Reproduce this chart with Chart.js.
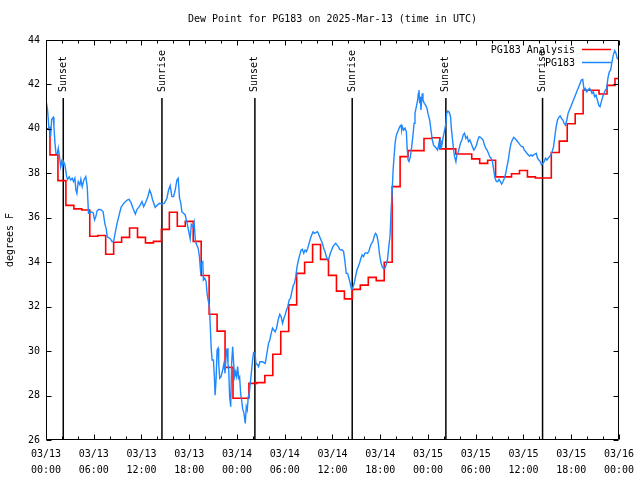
<!DOCTYPE html>
<html><head><meta charset="utf-8">
<script src="https://cdn.jsdelivr.net/npm/chart.js@4/dist/chart.umd.min.js"></script>
<style>html,body{margin:0;padding:0;background:#fff;}canvas{display:block;}</style>
</head><body>
<canvas id="c" width="640" height="480"></canvas>
<script>
const titleText = 'Dew Point for PG183 on 2025-Mar-13 (time in UTC)';
const yAxisLabel = 'degrees F';
const seriesNames = ['PG183 Analysis', 'PG183'];
const seriesColors = ['#ff0000', '#1e88ff'];
const xTickDates = ['03/13','03/13','03/13','03/13','03/14','03/14','03/14','03/14','03/15','03/15','03/15','03/15','03/16'];
const xTickTimes = ['00:00','06:00','12:00','18:00','00:00','06:00','12:00','18:00','00:00','06:00','12:00','18:00','00:00'];
const sunEventHours = [2.17, 14.57, 26.25, 38.48, 50.25, 62.4];
const sunEventLabels = ['Sunset','Sunrise','Sunset','Sunrise','Sunset','Sunrise'];

// hourly analysis (hours since 03/13 00:00 UTC)
const analysisHours = [0,1,2,3,4,5,6,7,8,9,10,11,12,13,14,15,16,17,18,19,20,21,22,23,24,25,26,27,28,29,30,31,32,33,34,35,36,37,38,39,40,41,42,43,44,45,46,47,48,49,50,51,52,53,54,55,56,57,58,59,60,61,62,63,64,65,66,67,68,69,70,71,72];
const analysisValues = [40.0,38.83,37.67,36.56,36.4,36.35,35.17,35.2,34.36,34.9,35.12,35.54,35.12,34.87,34.94,35.48,36.25,35.62,35.84,34.94,33.4,31.66,30.9,29.27,27.88,27.88,28.55,28.58,28.9,29.86,30.88,32.08,33.5,34.0,34.8,34.13,33.41,32.7,32.35,32.78,32.97,33.32,33.17,34.0,37.4,38.75,39.02,39.02,39.57,39.6,39.1,39.1,38.87,38.87,38.65,38.45,38.59,37.84,37.84,37.98,38.13,37.84,37.79,37.79,38.94,39.45,40.23,40.68,41.74,41.74,41.57,41.96,42.27];

// observations
const obsHours = [0.0,0.08,0.2,0.38,0.5,0.58,0.71,0.92,1.0,1.13,1.25,1.42,1.54,1.67,1.84,1.96,2.09,2.21,2.38,2.59,2.71,2.92,3.09,3.3,3.46,3.63,3.76,3.88,4.05,4.26,4.38,4.55,4.76,5.0,5.18,5.34,5.5,5.68,5.93,6.1,6.26,6.43,6.68,6.97,7.18,7.39,7.6,7.68,8.1,8.31,8.51,8.72,8.93,9.14,9.43,9.77,10.19,10.44,10.69,10.94,11.23,11.44,11.65,11.85,12.06,12.27,12.48,12.77,13.02,13.19,13.4,13.73,14.02,14.27,14.57,14.86,15.2,15.4,15.61,15.82,16.03,16.24,16.45,16.61,16.78,16.95,17.07,17.28,17.49,17.7,17.9,18.12,18.26,18.45,18.61,18.78,18.95,19.12,19.28,19.41,19.53,19.7,19.78,19.95,20.12,20.24,20.37,20.54,20.62,20.75,20.87,21.04,21.16,21.25,21.37,21.5,21.62,21.7,21.83,22.0,22.2,22.37,22.5,22.62,22.75,22.87,22.96,23.08,23.21,23.33,23.46,23.58,23.71,23.83,23.96,24.08,24.21,24.33,24.46,24.58,24.71,24.88,25.04,25.17,25.29,25.42,25.55,25.67,25.8,25.96,26.09,26.26,26.38,26.59,26.71,26.88,27.21,27.55,27.76,27.96,28.13,28.3,28.47,28.63,28.8,28.97,29.09,29.22,29.38,29.55,29.72,29.89,30.05,30.22,30.39,30.55,30.72,30.89,31.05,31.22,31.39,31.55,31.72,31.89,32.06,32.22,32.39,32.56,32.73,32.89,33.06,33.23,33.39,33.56,33.72,33.89,34.1,34.22,34.39,34.56,34.73,34.9,35.06,35.23,35.4,35.56,35.73,35.9,36.06,36.23,36.4,36.56,36.73,36.9,37.06,37.23,37.4,37.57,37.73,37.9,38.07,38.23,38.4,38.57,38.73,38.9,39.07,39.23,39.4,39.57,39.73,39.9,40.07,40.23,40.4,40.57,40.74,40.9,41.07,41.23,41.4,41.57,41.74,41.9,42.07,42.24,42.41,42.57,42.74,42.91,43.08,43.24,43.37,43.49,43.62,43.74,43.87,43.99,44.12,44.29,44.45,44.62,44.7,44.79,44.95,45.12,45.29,45.37,45.5,45.62,45.79,45.96,46.12,46.25,46.37,46.54,46.71,46.79,46.87,46.96,47.04,47.12,47.21,47.29,47.37,47.54,47.71,47.87,48.04,48.21,48.38,48.55,48.71,48.88,49.05,49.21,49.38,49.55,49.63,49.75,49.88,50.05,50.26,50.34,50.5,50.67,50.84,50.92,51.09,51.22,51.34,51.51,51.63,51.76,51.93,52.09,52.26,52.43,52.59,52.76,52.93,53.09,53.26,53.43,53.59,53.76,53.93,54.1,54.26,54.43,54.6,54.76,54.93,55.1,55.26,55.43,55.6,55.76,55.93,56.1,56.26,56.43,56.6,56.76,56.93,57.1,57.26,57.43,57.6,57.77,57.93,58.1,58.27,58.44,58.6,58.77,58.94,59.1,59.27,59.44,59.6,59.77,59.94,60.1,60.27,60.44,60.61,60.77,60.94,61.11,61.27,61.44,61.61,61.77,61.94,62.11,62.27,62.44,62.61,62.77,62.94,63.11,63.27,63.44,63.61,63.78,63.94,64.11,64.28,64.44,64.61,64.78,64.95,65.11,65.28,65.45,65.61,65.78,65.95,66.12,66.28,66.45,66.62,66.78,66.95,67.12,67.28,67.45,67.62,67.78,67.95,68.12,68.29,68.45,68.62,68.79,68.95,69.12,69.29,69.46,69.62,69.79,69.96,70.12,70.29,70.46,70.62,70.79,70.96,71.12,71.29,71.46,71.63,71.79,71.97];
const obsValues = [41.3,41.3,40.85,39.95,40.1,39.65,40.43,40.52,40.1,39.35,38.9,38.87,39.13,38.83,38.3,38.53,38.33,38.53,38.38,37.85,37.73,37.85,37.7,37.78,37.63,37.78,37.25,37.1,37.63,37.48,37.73,37.4,37.7,37.85,37.4,36.2,36.2,36.27,36.23,35.9,36.05,36.32,36.38,36.35,36.27,35.75,35.45,35.15,35.05,34.92,34.96,35.37,35.75,36.05,36.47,36.65,36.8,36.83,36.68,36.42,36.17,36.38,36.47,36.58,36.73,36.5,36.65,36.91,37.25,37.1,36.8,36.47,36.58,36.65,36.62,36.65,36.88,37.25,37.45,36.95,36.95,37.25,37.7,37.78,36.88,36.65,36.27,36.2,36.13,35.82,35.45,35.05,35.7,35.6,35.82,34.93,34.78,34.63,34.25,33.65,33.95,34.02,33.2,33.28,33.13,32.6,32.3,32.0,31.32,30.2,29.6,29.6,28.85,28.02,28.7,30.05,30.13,29.45,28.78,28.85,29.15,29.45,29.0,29.75,30.13,29.45,29.15,27.95,27.5,29.45,30.2,29.45,28.85,29.07,28.85,29.3,28.78,28.85,28.1,27.8,27.42,27.2,26.75,27.5,27.35,27.95,28.1,28.55,29.0,29.6,29.93,29.9,29.45,29.38,29.3,29.52,29.52,29.45,29.9,30.35,30.5,30.8,31.03,30.95,30.87,31.03,31.25,31.47,31.66,31.55,31.25,31.47,31.63,31.85,32.0,32.3,32.37,32.67,32.93,33.05,33.35,33.8,34.1,34.33,34.55,34.58,34.4,34.55,34.48,34.63,34.85,35.07,35.22,35.37,35.3,35.33,35.37,35.3,35.15,35.0,34.85,34.63,34.48,34.25,34.1,34.18,34.4,34.55,34.7,34.78,34.85,34.78,34.7,34.58,34.55,34.55,34.48,34.02,33.5,33.5,33.28,33.05,32.75,32.87,33.05,33.35,33.65,33.8,33.95,34.18,34.33,34.25,34.4,34.43,34.4,34.48,34.7,34.85,34.92,35.15,35.3,35.22,34.92,34.4,34.02,33.8,33.72,33.72,33.87,34.1,34.7,35.2,36.35,37.1,38.15,38.75,39.35,39.65,39.8,39.95,40.1,40.17,39.95,40.1,39.95,40.03,39.87,39.2,38.6,38.53,38.75,39.2,39.73,40.25,40.7,41.0,41.3,41.6,41.75,41.15,41.45,40.85,41.3,41.6,41.3,41.15,41.07,40.93,40.63,40.4,39.95,39.5,39.27,39.2,39.13,39.05,39.35,39.13,39.43,39.27,39.57,39.87,40.25,40.7,40.8,40.75,40.55,40.1,39.5,39.05,38.75,38.52,38.83,38.9,39.13,39.35,39.5,39.73,39.8,39.57,39.65,39.42,39.5,39.35,39.2,39.05,39.13,39.27,39.5,39.65,39.62,39.57,39.5,39.27,39.13,39.05,38.9,38.75,38.68,38.53,38.15,37.78,37.63,37.63,37.73,37.63,37.52,37.63,37.78,38.0,38.3,38.6,39.05,39.35,39.5,39.62,39.57,39.5,39.42,39.35,39.27,39.2,39.2,39.05,38.98,38.9,38.83,38.78,38.83,38.78,38.83,38.87,38.9,38.68,38.6,38.53,38.38,38.45,38.53,38.68,38.6,38.68,38.75,38.83,38.98,39.2,39.65,40.1,40.4,40.52,40.58,40.47,40.4,40.25,40.17,40.4,40.7,40.85,41.0,41.15,41.3,41.45,41.6,41.75,41.9,42.05,42.2,42.23,41.75,41.82,41.67,41.75,41.82,41.75,41.6,41.67,41.45,41.52,41.3,41.07,41.0,41.23,41.45,41.6,41.75,41.82,42.3,42.57,42.65,43.02,43.32,43.52,43.4,43.17,43.13];

const FONT = 'DejaVu Sans Mono';

const framePlugin = {
  id: 'frame',
  beforeDatasetsDraw(chart) {
    const c = chart.ctx, a = chart.chartArea, xs = chart.scales.x;
    c.save();
    c.strokeStyle = '#000';
    c.lineWidth = 1.5;
    c.fillStyle = '#000';
    c.font = '10px ' + FONT;
    sunEventHours.forEach((h, i) => {
      const px = xs.getPixelForValue(h);
      c.beginPath(); c.moveTo(px, 98); c.lineTo(px, a.bottom); c.stroke();
      c.save();
      c.translate(px, 92);
      c.rotate(-Math.PI / 2);
      c.textAlign = 'left'; c.textBaseline = 'middle';
      c.fillText(sunEventLabels[i], 0, 0);
      c.restore();
    });
    c.restore();
  },
  afterDatasetsDraw(chart) {
    const c = chart.ctx, a = chart.chartArea, xs = chart.scales.x, ys = chart.scales.y;
    c.save();
    // title, centred over the plot area
    c.fillStyle = '#000';
    c.font = '10px ' + FONT;
    c.textAlign = 'center'; c.textBaseline = 'middle';
    c.fillText(titleText, (a.left + a.right) / 2, 19);
    c.strokeStyle = '#000';
    c.lineWidth = 1;
    const L = Math.round(a.left) + 0.5, R = Math.round(a.right) - 0.5;
    const T = Math.round(a.top) + 0.5, B = Math.round(a.bottom) - 0.5;
    c.beginPath(); c.rect(L, T, R - L, B - T); c.stroke();
    c.beginPath();
    for (let h = 0; h <= 72; h += 2) {
      const px = Math.round(xs.getPixelForValue(h)) + 0.5;
      const len = (h % 6 === 0) ? 5 : 3;
      c.moveTo(px, B); c.lineTo(px, B - len);
      c.moveTo(px, T); c.lineTo(px, T + len);
    }
    for (let v = 26; v <= 44; v += 2) {
      const py = Math.round(ys.getPixelForValue(v)) + 0.5;
      c.moveTo(L, py); c.lineTo(L + 5, py);
      c.moveTo(R, py); c.lineTo(R - 5, py);
    }
    c.stroke();
    // key
    c.font = '10px ' + FONT;
    c.textAlign = 'right'; c.textBaseline = 'middle';
    chart.data.datasets.forEach((ds, i) => {
      const y = 50 + i * 13;
      c.fillStyle = '#000';
      c.fillText(ds.label, 575, y);
      c.strokeStyle = ds.borderColor; c.lineWidth = 1.5;
      c.beginPath(); c.moveTo(582, y - 0.5); c.lineTo(611, y - 0.5); c.stroke();
    });
    c.restore();
  }
};

new Chart(document.getElementById('c').getContext('2d'), {
  type: 'line',
  data: {
    datasets: [
      { label: seriesNames[0], data: analysisHours.map((h, i) => ({ x: h, y: analysisValues[i] })),
        borderColor: seriesColors[0], borderWidth: 1.6, pointRadius: 0, stepped: 'middle', fill: false, order: 1 },
      { label: seriesNames[1], data: obsHours.map((h, i) => ({ x: h, y: obsValues[i] })),
        borderColor: seriesColors[1], borderWidth: 1.4, pointRadius: 0, tension: 0, fill: false, order: 0 }
    ]
  },
  options: {
    responsive: false, animation: false, devicePixelRatio: 1,
    layout: { padding: { left: 0, right: 18, top: 40, bottom: 0 } },
    plugins: {
      legend: { display: false }, tooltip: { enabled: false }, title: { display: false }
    },
    scales: {
      x: { type: 'linear', min: 0, max: 72,
        grid: { display: false, drawTicks: false }, border: { display: false },
        ticks: { stepSize: 6, autoSkip: false, maxRotation: 0, minRotation: 0, color: '#000',
          font: { family: FONT, size: 10, lineHeight: 1.6 }, padding: 6,
          callback: (v) => { const i = Math.round(v / 6); return [xTickDates[i], xTickTimes[i]]; } },
        afterFit: (s) => { s.height = 40; } },
      y: { min: 26, max: 44,
        grid: { display: false, drawTicks: false }, border: { display: false },
        ticks: { stepSize: 2, color: '#000', font: { family: FONT, size: 10 }, padding: 6 },
        title: { display: true, text: yAxisLabel, color: '#000', font: { family: FONT, size: 10 }, padding: { top: 4, bottom: 0 } },
        afterFit: (s) => { s.width = 46; } }
    }
  },
  plugins: [framePlugin]
});
</script>
</body></html>
